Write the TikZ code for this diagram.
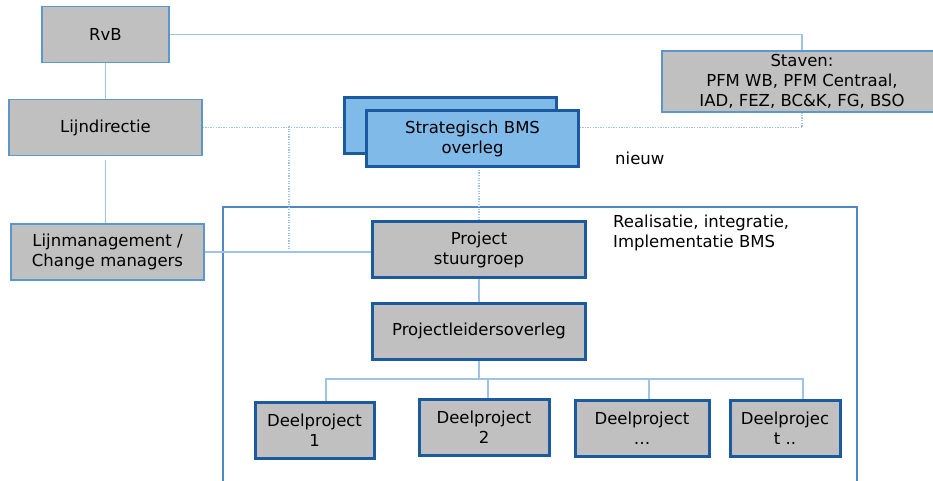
\documentclass[tikz,border=0pt]{standalone}
\usepackage{fontspec}
\setmainfont{DejaVu Sans}
\usepackage{tikz}
\usetikzlibrary{
  positioning,
  backgrounds
}
\definecolor{boxgray}{RGB}{192,192,192}
\definecolor{linkblue}{RGB}{157,195,230}
\definecolor{edgeblue}{RGB}{91,150,205}
\definecolor{darkblue}{RGB}{28,90,160}
\definecolor{stratblue}{RGB}{128,186,232}
\definecolor{frameblue}{RGB}{80,135,195}
\begin{document}
\begin{tikzpicture}[x=1bp,y=-1bp,
  font=\fontsize{16.5bp}{20bp}\selectfont,
  every node/.style={align=center,inner sep=0pt},
  topbox/.style={draw=edgeblue,fill=boxgray,line width=1.3bp,minimum height=56bp},
  projbox/.style={draw=darkblue,fill=boxgray,line width=3bp,minimum height=56bp},
  stratbox/.style={draw=darkblue,fill=stratblue,line width=3bp,minimum width=212bp,minimum height=56bp},
  link/.style={draw=linkblue,line width=1.3bp},
  dotlink/.style={link,dash pattern=on 1.3bp off 1.3bp}]
\useasboundingbox (0,0) rectangle (933,481);
\node[topbox,minimum width=127bp] (RvB) at (105.5,34.5) {RvB};
\node[topbox,minimum width=193bp] (Lijndirectie) [below=36bp of RvB] {Lijndirectie};
\node[topbox,minimum width=193bp] (Lijnmanagement) [below=67bp of Lijndirectie,xshift=2bp] {Lijnmanagement /\\Change managers};
\node[topbox,minimum width=280bp,minimum height=61bp] (Staven) at (802,81.5) {Staven:\\PFM WB, PFM Centraal,\\IAD, FEZ, BC\&K, FG, BSO};
\node[stratbox] (StratAchter) at (450,126) {};
\node[stratbox] (Strategisch) at (472.5,139) {Strategisch BMS\\overleg};
\node[anchor=base west] (nieuw) at (615,165) {nieuw};
\node[projbox,minimum width=213bp] (Stuurgroep) at (479,250) {Project\\stuurgroep};
\node[projbox,minimum width=213bp] (Projectleiders) [below=22bp of Stuurgroep] {Projectleidersoverleg};
\node[anchor=north west,align=left] (Realisatie) at (613,215) {Realisatie, integratie,\\Implementatie BMS};
\node[projbox,minimum width=119bp] (Deel1) at (314.5,430) {Deelproject\\1};
\node[projbox,minimum width=130bp] (Deel2) at (484,427.5) {Deelproject\\2};
\node[projbox,minimum width=134bp] (Deel3) at (642,428) {Deelproject\\…};
\node[projbox,minimum width=110bp] (Deel4) at (785,428) {Deelprojec\\t ..};
\coordinate (tap) at (289,126);
\coordinate (bus) at (479,379);

\begin{scope}[on background layer]
\draw[frameblue,line width=1.3bp] (223,490) |- (857,207) -- (857,490);
\path[link] (RvB.south) -- (Lijndirectie.north)
            (RvB.east) -| (Staven.north)
            ([yshift=-4bp]Lijndirectie.south) -- (Lijndirectie.south |- Lijnmanagement.north)
            (Lijnmanagement.east) -- (Lijnmanagement.east -| Stuurgroep.west)
            (Stuurgroep.south) -- (Projectleiders.north)
            (Projectleiders.south) -- (bus)
            ([xshift=11.5bp]Deel1.north) |- (bus)
            ([xshift=4bp]Deel2.north) |- (bus)
            ([xshift=7bp]Deel3.north) |- (bus)
            ([xshift=18bp]Deel4.north) |- (bus);
\path[dotlink] (Lijndirectie.east) -| (Staven.south)
               (tap) -- (tap |- Lijnmanagement.east)
               (Stuurgroep.north) -- (Stuurgroep.north |- Strategisch.south);
\end{scope}
\end{tikzpicture}
\end{document}
